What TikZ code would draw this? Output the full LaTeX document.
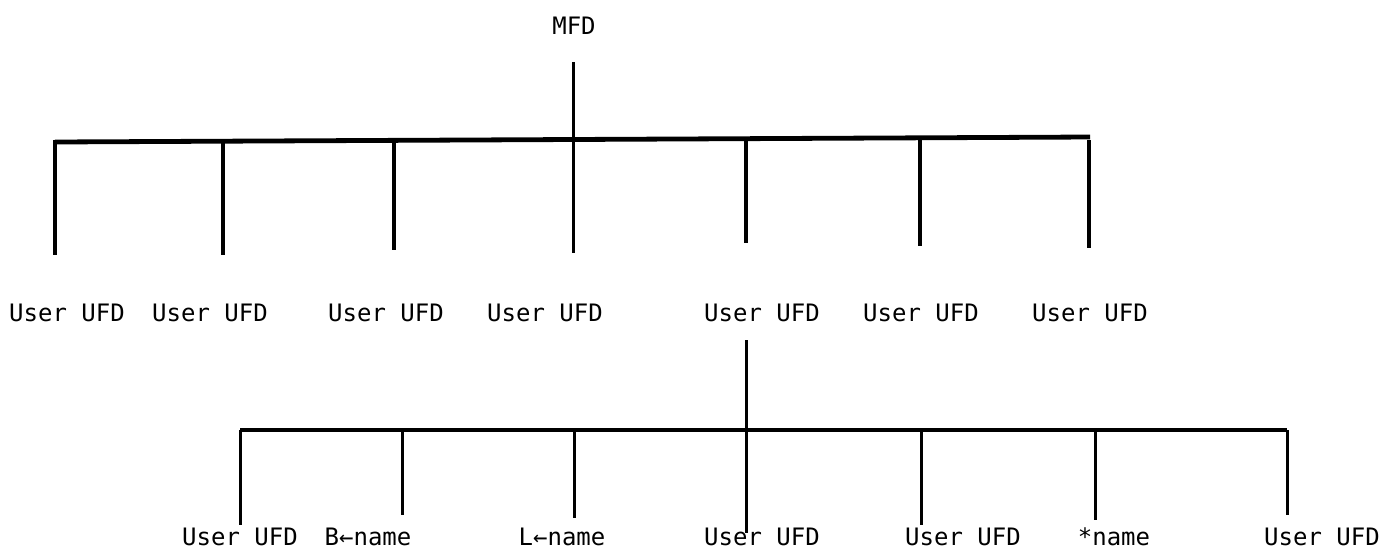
\documentclass[tikz,border=0pt]{standalone}
\usepackage{fontspec}
\newfontfamily\labfont{DejaVu Sans Mono}
\begin{document}
\begin{tikzpicture}[x=0.5pt,y=-0.5pt,
  lab/.style={font=\labfont\fontsize{12pt}{14pt}\selectfont, inner sep=0pt, anchor=center},
  bar/.style={line width=2.4pt},
  vline/.style={line width=2pt},
  thinline/.style={line width=1.5pt}]
\useasboundingbox (0,0) rectangle (1386,553);
% root
\node[lab] (mfd) at (574,26) {MFD};
% top bar
\coordinate (tL) at (55,142);
\coordinate (tR) at (1090,137);
\draw[bar] (tL) -- (tR);
% junctions and ends top
\foreach \i/\x/\e in {1/55/255,2/223/255,3/394/250,4/573/253,5/746/243,6/920/246,7/1089/248}{
  \coordinate (tj\i) at (\x,140);
  \coordinate (te\i) at (\x,\e);
}
\coordinate (mfdtop) at (573,62);
\draw[thinline] (mfdtop) -- (te4);
\foreach \i in {1,2,3,5,6,7}{ \draw[vline] (tj\i) -- (te\i); }
% top labels
\node[lab] (u1) at (67,313) {User UFD};
\node[lab] (u2) at (210,313) {User UFD};
\node[lab] (u3) at (386,313) {User UFD};
\node[lab] (u4) at (545,313) {User UFD};
\node[lab] (u5) at (762,313) {User UFD};
\node[lab] (u6) at (921,313) {User UFD};
\node[lab] (u7) at (1090,313) {User UFD};
% second level
\coordinate (s5top) at (746,340);
\coordinate (bL) at (240,430);
\coordinate (bR) at (1287,430);
\draw[vline] (bL) -- (bR);
\foreach \i/\x/\e in {1/240/525,2/402/515,3/574/518,4/746/533,5/921/525,6/1095/520,7/1287/515}{
  \coordinate (bj\i) at (\x,430);
  \coordinate (be\i) at (\x,\e);
}
\draw[thinline] (s5top) -- (be4);
\foreach \i in {1,2,3,5,6,7}{ \draw[thinline] (bj\i) -- (be\i); }
% bottom labels
\node[lab] (b1) at (240,537) {User UFD};
\node[lab] (b2) at (368,537) {B←name};
\node[lab] (b3) at (562,537) {L←name};
\node[lab] (b4) at (762,537) {User UFD};
\node[lab] (b5) at (963,537) {User UFD};
\node[lab] (b6) at (1114,537) {*name};
\node[lab] (b7) at (1322,537) {User UFD};
\end{tikzpicture}
\end{document}
